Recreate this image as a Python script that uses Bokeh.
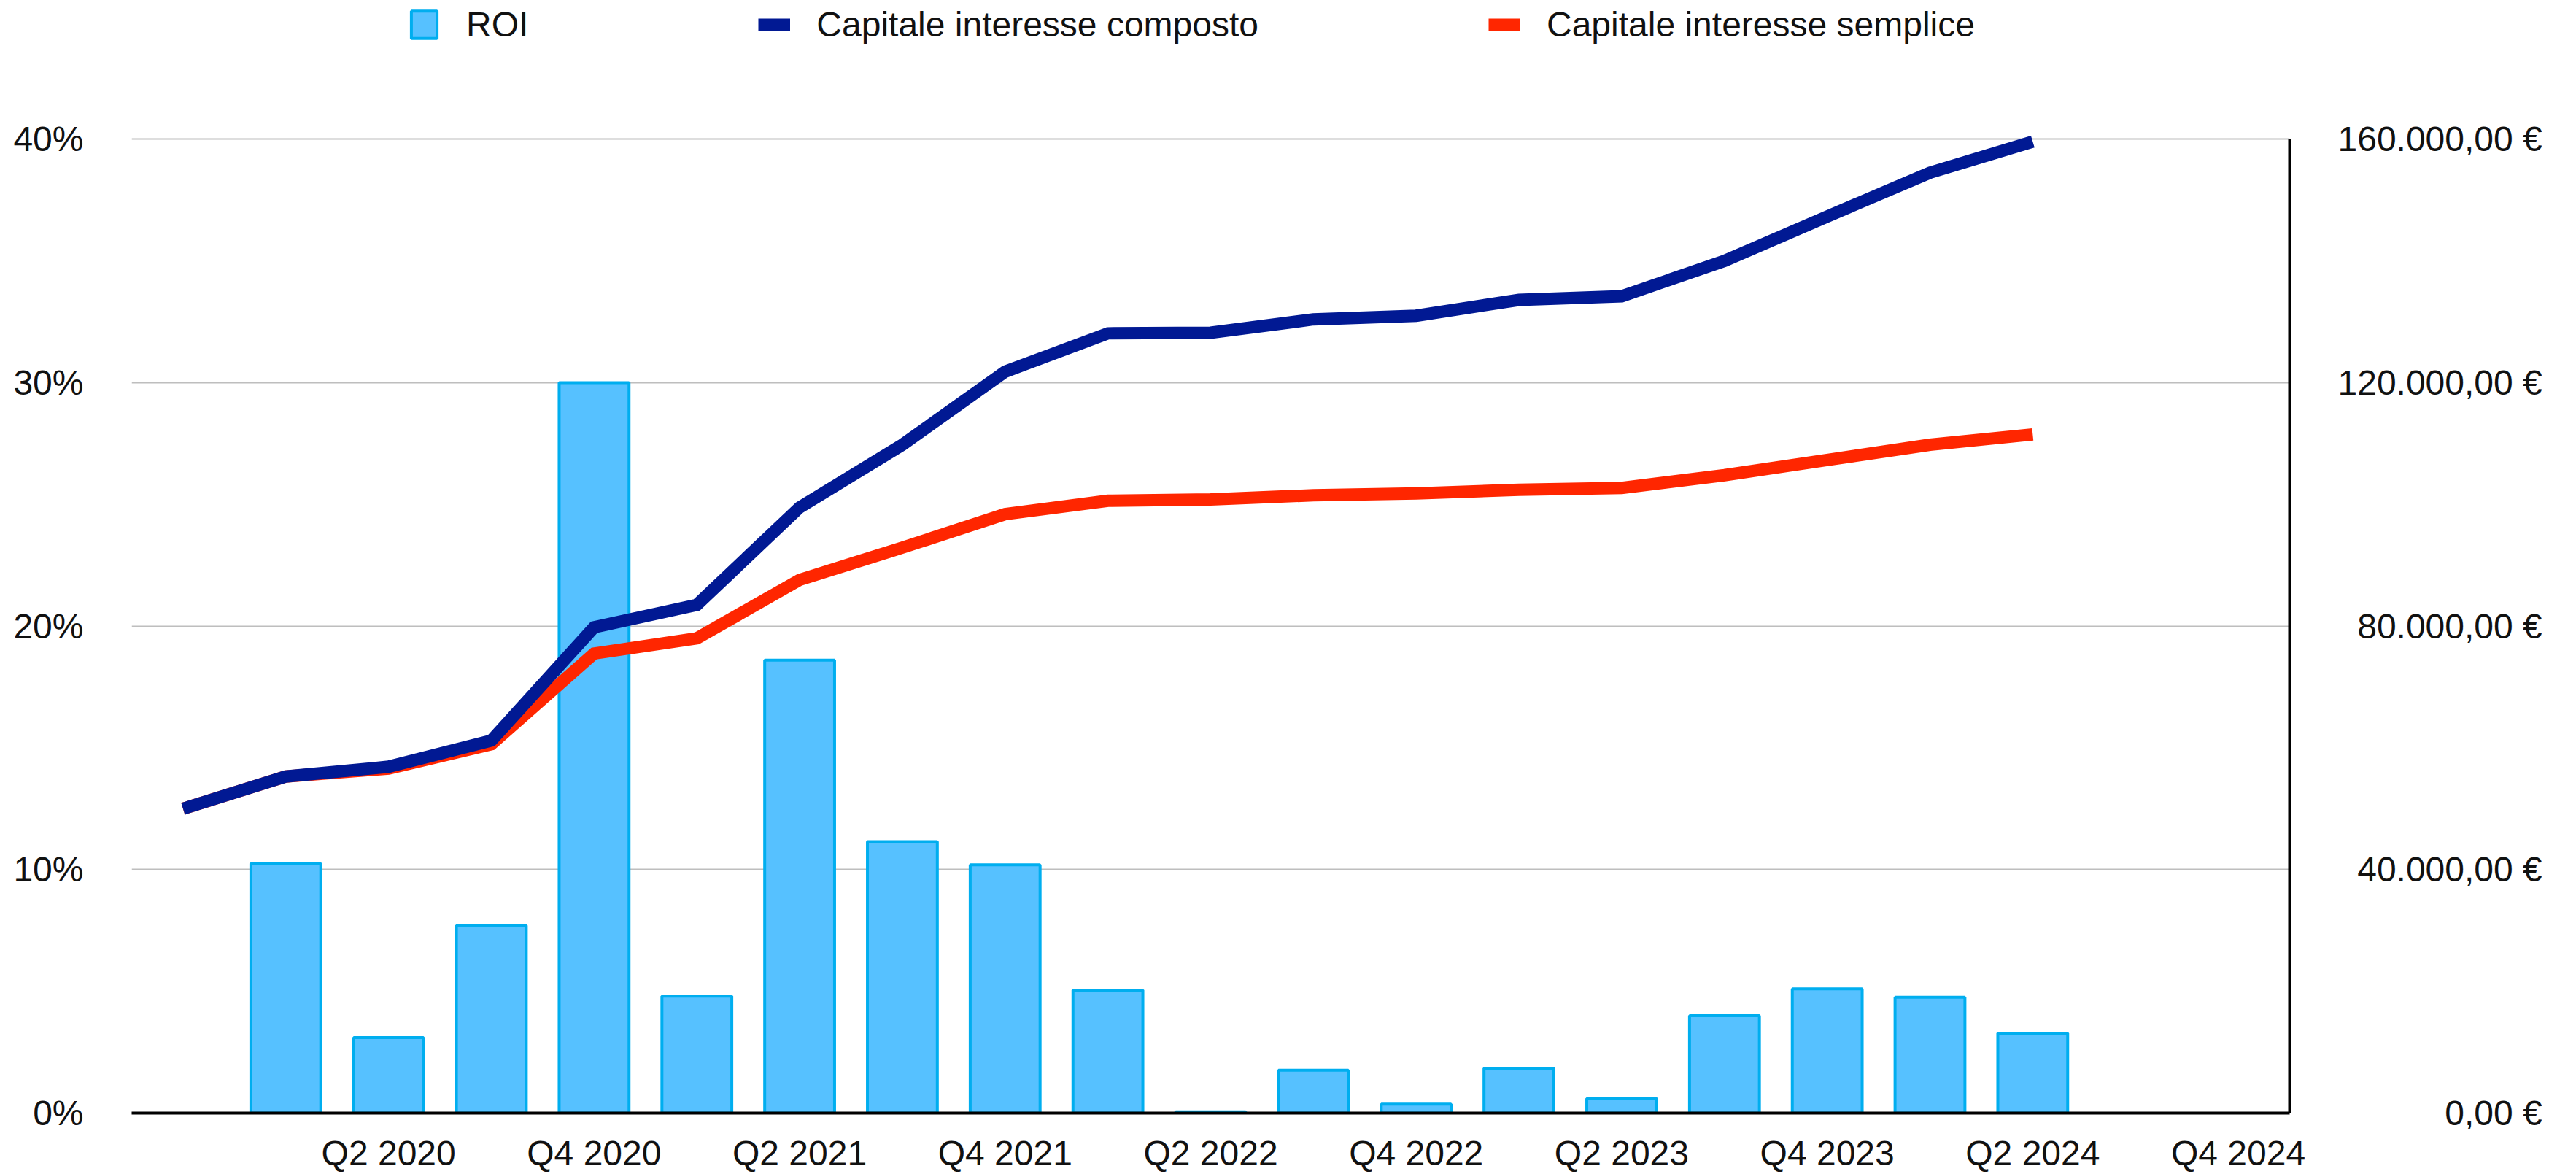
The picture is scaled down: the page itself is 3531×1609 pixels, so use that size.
from bokeh.plotting import figure
from bokeh.models import Range1d, LinearAxis, FixedTicker, Legend, LegendItem
from bokeh.embed import file_html
from bokeh.resources import INLINE

# ---- data ----
quarters = ["Q1 2020", "Q2 2020", "Q3 2020", "Q4 2020",
            "Q1 2021", "Q2 2021", "Q3 2021", "Q4 2021",
            "Q1 2022", "Q2 2022", "Q3 2022", "Q4 2022",
            "Q1 2023", "Q2 2023", "Q3 2023", "Q4 2023",
            "Q1 2024", "Q2 2024", "Q3 2024", "Q4 2024"]
roi_pct = [10.25, 3.1, 7.7, 30.0, 4.8, 18.6, 11.15, 10.2, 5.05, 0.05,
           1.76, 0.37, 1.84, 0.6, 4.0, 5.1, 4.76, 3.28]
# first value = starting capital (period before Q1 2020)
cap_compound = [50000, 55300, 56900, 61200, 79800, 83500, 99500, 109800, 121800,
                128100, 128200, 130400, 131000, 133600, 134200, 140000, 147300,
                154500, 159600]
cap_simple = [50000, 55300, 56600, 60600, 75500, 78000, 87600, 92900, 98400,
              100600, 100800, 101500, 101800, 102400, 102700, 104800, 107300,
              109800, 111500]
pct_ticks = [0, 10, 20, 30, 40]
pct_labels = ["0%", "10%", "20%", "30%", "40%"]
eur_ticks = [0, 40000, 80000, 120000, 160000]
eur_labels = ["0,00 €", "40.000,00 €", "80.000,00 €", "120.000,00 €", "160.000,00 €"]
label_quarters = [q for q in quarters if q.startswith("Q2") or q.startswith("Q4")]

FONT = "Liberation Sans"
FS = "48px"

W, H = 3531, 1609
FRAME_BOTTOM = 1531      # pixel row of the 0 baseline
PLOT_TOP = 191           # pixel row of the 40% / 160k line
# the frame reaches the top of the canvas (room for the legend); ranges are
# extended accordingly so that 40% / 160k still fall on PLOT_TOP
ext = FRAME_BOTTOM / (FRAME_BOTTOM - PLOT_TOP)

bar_x = list(range(len(roi_pct)))
line_x = [i - 1 for i in range(len(cap_compound))]
q_tick_pos = [quarters.index(q) for q in label_quarters]

# right-aligned euro labels (pad with figure / punctuation spaces)
longest = max(eur_labels, key=len)
def pad(lbl):
    n_int_long = len(longest.split(",")[0])
    n_int = len(lbl.split(",")[0])
    digits_long = sum(c.isdigit() for c in longest.split(",")[0])
    digits = sum(c.isdigit() for c in lbl.split(",")[0])
    dots = (n_int_long - digits_long) - (n_int - digits)
    return "\u2007" * (digits_long - digits) + "\u2008" * dots + lbl

p = figure(width=W, height=H, output_backend="svg", toolbar_location=None,
           x_range=Range1d(-1.5, len(quarters) - 0.5),
           y_range=Range1d(0, max(pct_ticks) * ext),
           min_border_left=180, min_border_right=393, min_border_top=0,
           min_border_bottom=H - FRAME_BOTTOM, outline_line_color=None,
           background_fill_color="white", border_fill_color="white")
p.extra_y_ranges = {"cap": Range1d(0, max(eur_ticks) * ext)}

bars = p.vbar(x=bar_x, top=roi_pct, bottom=0, width=0.68,
              fill_color="#56C1FF", line_color="#00AEEF", line_width=4)
red = p.line(x=line_x, y=cap_simple, y_range_name="cap", line_color="#FF2600",
             line_width=17, line_join="miter", line_cap="butt")
navy = p.line(x=line_x, y=cap_compound, y_range_name="cap", line_color="#011993",
              line_width=17, line_join="miter", line_cap="butt")

# axes
p.yaxis.ticker = FixedTicker(ticks=pct_ticks)
p.yaxis.major_label_overrides = dict(zip(pct_ticks, pct_labels))
p.yaxis.axis_line_color = None
p.yaxis.major_tick_line_color = None
p.yaxis.minor_tick_line_color = None
p.yaxis.major_label_standoff = 60

p.xaxis.ticker = FixedTicker(ticks=q_tick_pos)
p.xaxis.major_label_overrides = dict(zip(q_tick_pos, label_quarters))
p.xaxis.axis_line_color = "black"
p.xaxis.axis_line_width = 4
p.xaxis.major_tick_line_color = None
p.xaxis.minor_tick_line_color = None
p.xaxis.major_label_standoff = 22

right = LinearAxis(y_range_name="cap", ticker=FixedTicker(ticks=eur_ticks),
                   bounds=(min(eur_ticks), max(eur_ticks)),
                   major_label_overrides={t: pad(l) for t, l in zip(eur_ticks, eur_labels)},
                   axis_line_color="black", axis_line_width=4,
                   major_tick_line_color=None, minor_tick_line_color=None,
                   major_label_standoff=60)
p.add_layout(right, "right")

for ax in [p.xaxis[0], p.yaxis[0], right]:
    ax.major_label_text_font = FONT
    ax.major_label_text_font_size = FS
    ax.major_label_text_color = "#111111"

p.xgrid.grid_line_color = None
p.ygrid.ticker = FixedTicker(ticks=pct_ticks[1:])
p.ygrid.grid_line_color = "#BEBEBE"
p.ygrid.grid_line_width = 2

legend = Legend(items=[LegendItem(label="ROI", renderers=[bars]),
                       LegendItem(label="Capitale interesse composto", renderers=[navy]),
                       LegendItem(label="Capitale interesse semplice", renderers=[red])],
                orientation="horizontal", location=(379, 1464),
                glyph_width=44, glyph_height=47, label_standoff=36, spacing=315,
                padding=0, margin=0, border_line_alpha=0, background_fill_alpha=0,
                label_text_font=FONT, label_text_font_size=FS, label_text_color="#111111")
p.add_layout(legend, "center")

open("out.html", "w").write(file_html(p, INLINE))
